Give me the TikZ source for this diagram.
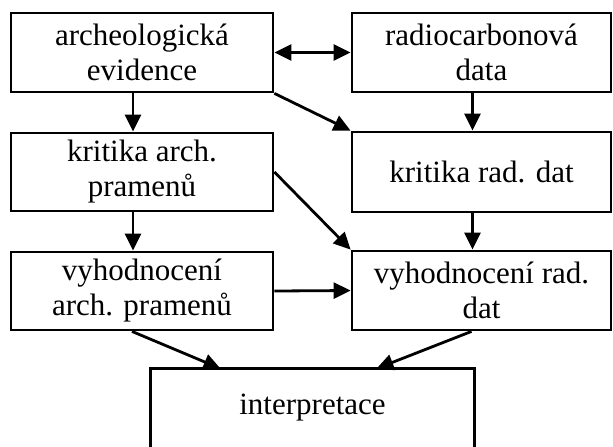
\documentclass[tikz,border=0pt]{standalone}
\usepackage{fontspec}
\setmainfont{Liberation Serif}
\usetikzlibrary{arrows.meta,calc}
\begin{document}
\begin{tikzpicture}[x=0.5pt,y=-0.5pt,
  box/.style={draw, line width=1.4pt, rectangle, inner sep=0pt, align=center,
    font=\fontsize{15.5}{17.5}\selectfont},
  arr/.style={line width=1.4pt, -{Triangle[length=8.5pt,width=8pt]}},
  arrboth/.style={line width=1.4pt, {Triangle[length=8.5pt,width=8pt]}-{Triangle[length=8.5pt,width=8pt]}},
]
\useasboundingbox (0,0) rectangle (613,446);
\node[box, minimum width=131pt, minimum height=39.5pt] (A) at (142,52.5) {archeologická\\evidence};
\node[box, minimum width=129.5pt, minimum height=39.5pt] (B) at (481.5,52.5) {radiocarbonová\\data};
\node[box, minimum width=131pt, minimum height=39pt] (C) at (142,172) {kritika arch.\\pramenů};
\node[box, minimum width=129.5pt, minimum height=40pt] (D) at (481.5,172) {kritika rad. dat};
\node[box, minimum width=131pt, minimum height=39pt] (E) at (142,291) {vyhodnocení\\arch. pramenů};
\node[box, minimum width=129.5pt, minimum height=39.5pt] (F) at (481.5,290.5) {vyhodnocení rad.\\dat};
\node[box, draw=none, minimum width=160.5pt, minimum height=38pt] (G) at (312.5,408) {interpretace};
\draw[line width=1.4pt] (G.south west) -- (G.north west) -- (G.north east) -- (G.south east);

\draw[arrboth] (A.east) -- (B.west);
\draw[arr] ([xshift=-4.5pt]A.south) -- ([xshift=-4.5pt]C.north);
\draw[arr] ([xshift=-4.5pt]B.south) -- ([xshift=-4.5pt]D.north);
\draw[arr] (A.south east) -- (D.north west);
\draw[arr] (C.east) -- (F.north west);
\draw[arr] ([xshift=-4.5pt]C.south) -- ([xshift=-4.5pt]E.north);
\draw[arr] ([xshift=-4.5pt]D.south) -- ([xshift=-4.5pt]F.north);
\draw[arr] (E.east) -- (F.west);
\draw[arr] ([xshift=-5pt]E.south) -- ([xshift=-46pt]G.north);
\draw[arr] ([xshift=-5pt]F.south) -- ([xshift=32pt]G.north);
\end{tikzpicture}
\end{document}
